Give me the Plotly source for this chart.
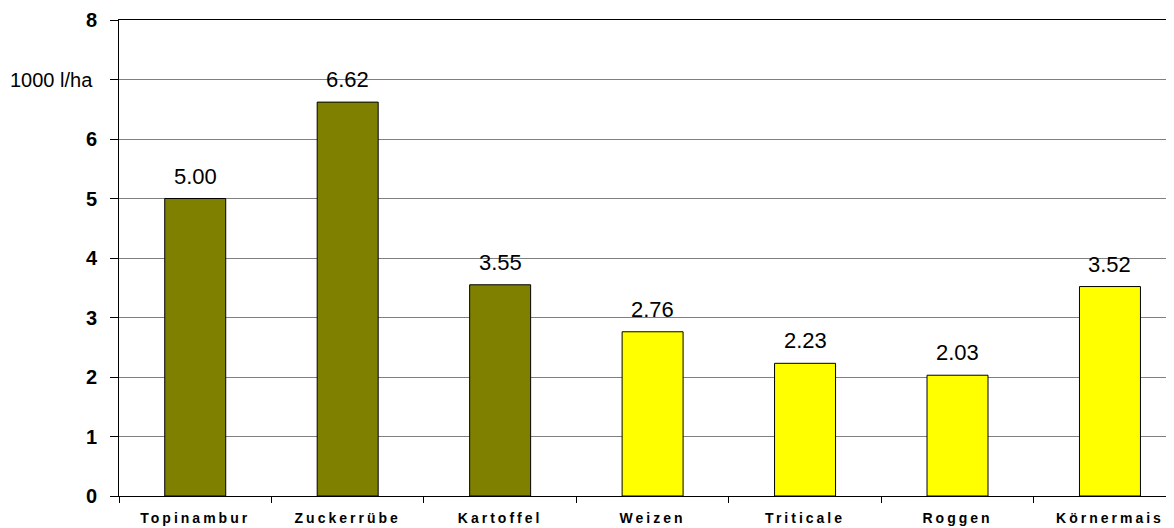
import plotly.graph_objects as go

categories = ["Topinambur", "Zuckerrübe", "Kartoffel", "Weizen", "Triticale", "Roggen", "Körnermais"]
values = [5.00, 6.62, 3.55, 2.76, 2.23, 2.03, 3.52]
bar_colors = ["#808000", "#808000", "#808000", "#FFFF00", "#FFFF00", "#FFFF00", "#FFFF00"]
y_tickvals = [0, 1, 2, 3, 4, 5, 6, 7, 8]
y_ticktext = ["0", "1", "2", "3", "4", "5", "6", "", "8"]
y_unit = "1000 l/ha"

fig = go.Figure()
fig.add_trace(go.Bar(
    x=categories, y=values, width=0.4,
    marker=dict(color=bar_colors, line=dict(color="black", width=1)),
    hoverinfo="skip",
))

for c, v in zip(categories, values):
    fig.add_annotation(x=c, y=v, text=f"{v:.2f}", showarrow=False,
                       yanchor="bottom", yshift=8,
                       font=dict(family="Liberation Sans, Arial", size=22, color="black"))

fig.add_annotation(xref="paper", x=0, xanchor="right", xshift=-25,
                   y=7, yref="y", text=y_unit, showarrow=False, borderpad=0,
                   font=dict(family="Liberation Sans, Arial", size=20, color="black"))

fig.update_layout(
    width=1166, height=520,
    margin=dict(l=111, r=0, t=12, b=32, autoexpand=False),
    paper_bgcolor="white", plot_bgcolor="white",
    showlegend=False,
)
fig.update_xaxes(
    range=[-0.5, 6.42], showgrid=False, showline=True, linecolor="black", linewidth=1,
    mirror=True, ticks="outside", tickson="boundaries", ticklen=6, tickcolor="black",
    tickfont=dict(family="Liberation Sans, Arial", size=14, color="black", weight="bold"),
    ticklabelstandoff=9, automargin=False,
)
fig.update_yaxes(
    range=[0, 8], tickvals=y_tickvals, ticktext=y_ticktext,
    showgrid=True, gridcolor="#808080", gridwidth=1,
    showline=True, linecolor="black", linewidth=1,
    ticks="outside", ticklen=8, tickcolor="black",
    tickfont=dict(family="Liberation Sans, Arial", size=20, color="black", weight="bold"),
    ticklabelstandoff=9, zeroline=False, automargin=False,
)

fig.write_html("out.html", post_script="document.querySelectorAll('.xtick text').forEach(function(t){t.style.letterSpacing='3px';});")
